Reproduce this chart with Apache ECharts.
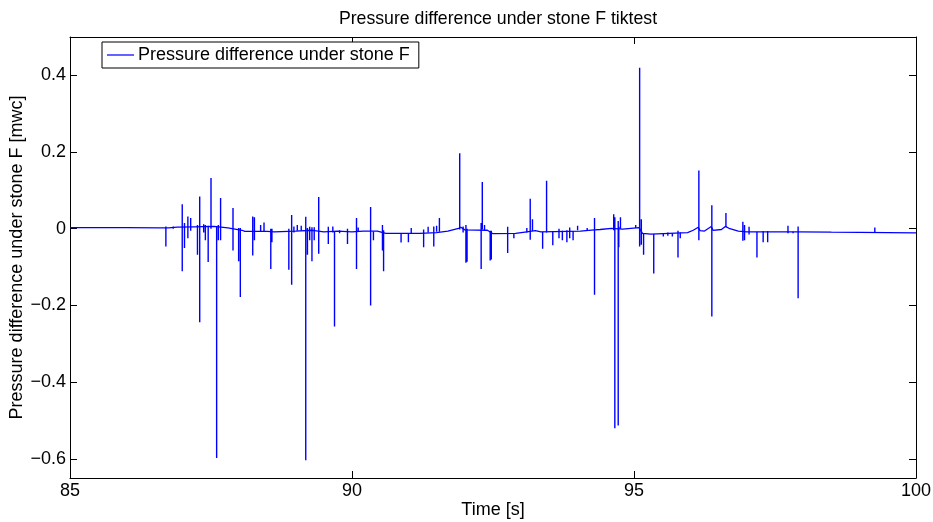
<!DOCTYPE html>
<html>
<head>
<meta charset="utf-8">
<script src="https://cdn.jsdelivr.net/npm/echarts@6/dist/echarts.min.js"></script>
<style>
html,body{margin:0;padding:0;background:#fff;}
#c{width:933px;height:522px;}
</style>
</head>
<body>
<div id="c"></div>
<script>
const chartTitle = 'Pressure difference under stone F tiktest';
const seriesName = 'Pressure difference under stone F';
const xTicks = [85, 90, 95, 100];
const yTicks = [-0.6, -0.4, -0.2, 0, 0.2, 0.4];

// slowly drifting base level: time [s] and pressure difference [mwc]
const baseTime = [
85.00,86.00,86.60,86.75,86.90,87.20,87.55,87.80,88.05,88.10,88.50,88.62,89.00,89.30,89.50,89.75,90.00,90.20,90.45,90.60,
91.20,91.50,91.70,91.89,91.93,92.00,92.40,92.50,92.90,93.10,93.25,93.35,94.05,94.30,94.40,94.60,94.80,95.09,95.15,95.30,
95.95,96.05,96.14,96.17,96.25,96.37,96.40,96.55,96.62,96.70,96.85,97.00,97.90,98.50,99.50,100.00
];
const baseValue = [
0.003,0.003,0.002,0.002,0.004,0.005,0.006,0.002,-0.004,-0.007,-0.007,-0.008,-0.006,-0.004,-0.008,-0.006,-0.008,-0.006,-0.006,-0.012,
-0.012,-0.010,-0.006,0.001,0.004,-0.003,-0.004,-0.013,-0.012,-0.008,-0.005,-0.008,-0.006,-0.003,-0.002,0.001,-0.001,0.003,-0.012,-0.014,
-0.010,-0.004,0.004,-0.005,-0.006,0.006,-0.004,-0.002,0.006,0.000,-0.006,-0.008,-0.008,-0.009,-0.010,-0.011
];

// spikes: time [s], highest and lowest value [mwc]
const spikeTime = [
86.70,86.83,86.99,87.03,87.09,87.14,87.26,87.30,87.37,87.40,87.45,87.50,87.60,87.63,87.67,87.89,87.99,88.02,88.24,88.27,
88.38,88.44,88.56,88.58,88.88,88.93,88.97,89.03,89.10,89.18,89.21,89.25,89.29,89.33,89.41,89.58,89.66,89.69,89.78,89.92,
90.08,90.11,90.33,90.38,90.54,90.56,90.87,91.00,91.05,91.27,91.35,91.45,91.50,91.55,91.91,91.97,92.02,92.04,92.29,92.31,
92.35,92.45,92.47,92.76,92.87,93.10,93.16,93.20,93.38,93.45,93.56,93.67,93.73,93.81,93.86,93.92,94.00,94.17,94.30,94.64,
94.66,94.72,94.73,94.76,95.03,95.10,95.13,95.17,95.35,95.52,95.60,95.68,95.78,95.82,96.15,96.38,96.63,96.93,96.96,97.04,
97.18,97.29,97.37,97.73,97.82,97.91,99.27
];
const spikeHigh = [
0.006,0.006,0.064,0.015,0.032,0.028,0.010,0.084,0.012,0.010,0.008,0.132,0.005,0.010,0.080,0.054,0.002,0.002,0.032,0.030,
0.010,0.016,0.000,0.000,0.000,0.036,0.006,0.010,0.008,0.031,0.002,0.005,0.004,0.004,0.083,0.005,0.006,-0.007,-0.004,0.000,
0.028,0.003,0.057,-0.007,0.010,-0.004,-0.012,-0.012,0.002,-0.002,0.005,0.006,0.008,0.028,0.197,0.006,0.010,0.000,0.015,0.122,
0.010,-0.005,-0.005,0.005,-0.012,0.002,0.078,0.025,-0.008,0.125,-0.008,0.000,-0.005,-0.004,0.003,-0.006,0.008,0.002,0.028,0.038,
0.030,0.020,0.005,0.030,0.010,0.420,0.025,-0.012,-0.014,-0.012,-0.010,-0.012,-0.005,-0.010,0.152,0.061,0.041,0.018,0.010,0.005,
-0.008,-0.006,-0.006,0.008,-0.008,0.006,0.003
];
const spikeLow = [
-0.046,0.000,-0.111,-0.050,-0.025,-0.005,-0.068,-0.244,-0.010,-0.030,-0.087,0.000,-0.598,-0.030,-0.030,-0.057,-0.085,-0.178,-0.070,-0.030,
-0.007,-0.007,-0.105,-0.035,-0.107,-0.146,-0.010,-0.005,-0.005,-0.604,-0.068,-0.030,-0.085,-0.030,-0.065,-0.040,-0.010,-0.255,-0.012,-0.040,
-0.105,-0.008,-0.200,-0.030,-0.057,-0.111,-0.036,-0.035,-0.012,-0.048,-0.010,-0.046,-0.008,-0.008,-0.002,-0.010,-0.089,-0.086,-0.105,-0.002,
-0.003,-0.083,-0.080,-0.063,-0.025,-0.010,-0.029,-0.006,-0.052,-0.010,-0.043,-0.025,-0.030,-0.035,-0.025,-0.030,-0.004,-0.004,-0.172,-0.004,
-0.520,-0.513,-0.048,0.000,0.002,-0.046,-0.042,-0.068,-0.117,-0.020,-0.018,-0.020,-0.075,-0.025,-0.030,-0.229,0.004,-0.031,-0.030,-0.015,
-0.075,-0.035,-0.035,-0.012,-0.012,-0.181,-0.009
];

const baseData = baseTime.map((t, i) => [t, baseValue[i]]);
const spikeData = [];
spikeTime.forEach((t, i) => {
  spikeData.push([t, spikeHigh[i]], [t, spikeLow[i]], [t, '-']);
});

const fmt = v => (v < 0 ? '\u2212' + String(-v) : String(v));
const font = 'Liberation Sans, Arial, sans-serif';
const blue = '#0000ff';

const chart = echarts.init(document.getElementById('c'), null, {renderer: 'canvas'});
const tickStyle = {inside: true, length: 7, lineStyle: {color: '#000', width: 1}};
chart.setOption({
  animation: false,
  backgroundColor: '#fff',
  title: {
    text: chartTitle, left: 493, top: 5, textAlign: 'center',
    textStyle: {fontFamily: font, fontSize: 17.7, fontWeight: 'normal', color: '#000'}
  },
  legend: {
    left: 102, top: 42, padding: [4, 9, 4, 5],
    borderColor: '#000', borderWidth: 1, backgroundColor: '#fff',
    itemWidth: 27, itemHeight: 1.6, itemGap: 0,
    textStyle: {fontFamily: font, fontSize: 18, color: '#000', padding: [0, 0, 0, -1]},
    data: [{name: seriesName, icon: 'rect', itemStyle: {color: '#3c3cff'}}]
  },
  grid: {left: 70, right: 17, top: 37, bottom: 44, show: false, containLabel: false, outerBoundsMode: 'none'},
  xAxis: [{
    type: 'value', min: 85, max: 100, interval: 5,
    name: 'Time [s]', nameLocation: 'middle', nameGap: 23, nameMoveOverlap: false,
    nameTextStyle: {fontFamily: font, fontSize: 18, color: '#000'},
    axisLine: {show: true, onZero: false, lineStyle: {color: '#000', width: 1}},
    axisTick: tickStyle,
    axisLabel: {fontFamily: font, fontSize: 18, color: '#000', margin: 4,
      customValues: xTicks, formatter: fmt},
    splitLine: {show: false}
  }, {
    type: 'value', position: 'top', min: 85, max: 100, interval: 5,
    axisLine: {show: true, onZero: false, lineStyle: {color: '#000', width: 1}},
    axisTick: tickStyle, axisLabel: {show: false}, splitLine: {show: false}
  }],
  yAxis: [{
    type: 'value', min: -0.65, max: 0.5,
    name: 'Pressure difference under stone F [mwc]', nameLocation: 'middle', nameGap: 44, nameMoveOverlap: false,
    nameTextStyle: {fontFamily: font, fontSize: 18, color: '#000'},
    axisLine: {show: true, onZero: false, lineStyle: {color: '#000', width: 1}},
    axisTick: Object.assign({customValues: yTicks}, tickStyle),
    axisLabel: {fontFamily: font, fontSize: 18, color: '#000', margin: 4,
      customValues: yTicks, formatter: fmt},
    splitLine: {show: false}
  }, {
    type: 'value', position: 'right', min: -0.65, max: 0.5,
    axisLine: {show: true, onZero: false, lineStyle: {color: '#000', width: 1}},
    axisTick: Object.assign({customValues: yTicks}, tickStyle),
    axisLabel: {show: false}, splitLine: {show: false}
  }],
  series: [{
    name: seriesName, type: 'line', data: baseData,
    xAxisIndex: 0, yAxisIndex: 0,
    symbol: 'none', showSymbol: false,
    lineStyle: {color: blue, width: 1.3},
    itemStyle: {color: blue}
  }, {
    name: seriesName, type: 'line', data: spikeData,
    xAxisIndex: 0, yAxisIndex: 0, connectNulls: false,
    symbol: 'none', showSymbol: false,
    lineStyle: {color: blue, width: 1.4},
    itemStyle: {color: blue}
  }]
});
</script>
</body>
</html>
